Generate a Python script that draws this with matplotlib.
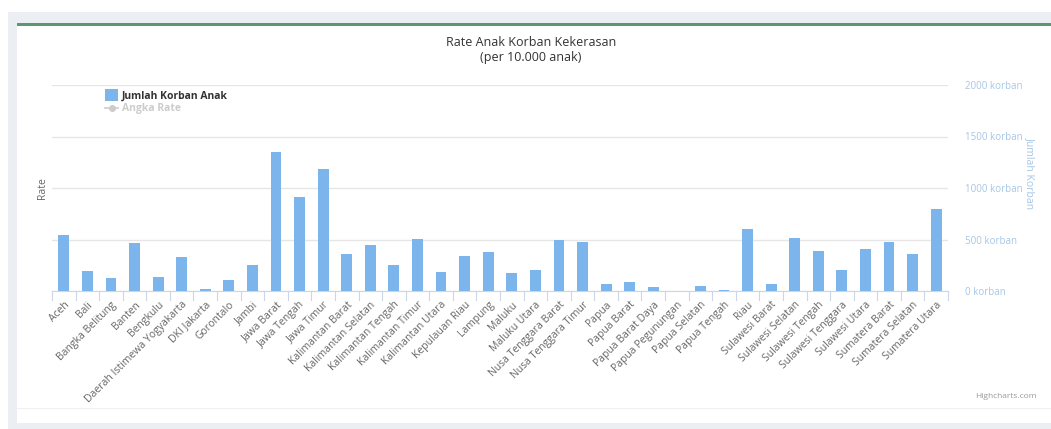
import numpy as np
import matplotlib.pyplot as plt
from matplotlib.patches import Rectangle
from matplotlib.lines import Line2D

plt.rcParams['font.family'] = ['Open Sans', 'DejaVu Sans']

# data
provinsi = [
    'Aceh', 'Bali', 'Bangka Belitung', 'Banten', 'Bengkulu',
    'Daerah Istimewa Yogyakarta', 'DKI Jakarta', 'Gorontalo', 'Jambi',
    'Jawa Barat', 'Jawa Tengah', 'Jawa Timur', 'Kalimantan Barat',
    'Kalimantan Selatan', 'Kalimantan Tengah', 'Kalimantan Timur',
    'Kalimantan Utara', 'Kepulauan Riau', 'Lampung', 'Maluku', 'Maluku Utara',
    'Nusa Tenggara Barat', 'Nusa Tenggara Timur', 'Papua', 'Papua Barat',
    'Papua Barat Daya', 'Papua Pegunungan', 'Papua Selatan', 'Papua Tengah',
    'Riau', 'Sulawesi Barat', 'Sulawesi Selatan', 'Sulawesi Tengah',
    'Sulawesi Tenggara', 'Sulawesi Utara', 'Sumatera Barat',
    'Sumatera Selatan', 'Sumatera Utara',
]
jumlah_korban = [
    545, 194, 123, 463, 133, 330, 15, 107, 252,
    1352, 910, 1181, 356, 447, 252, 509, 185, 340, 383, 175, 201,
    492, 476, 65, 91, 39, 0, 49, 10,
    606, 65, 518, 388, 201, 405, 476, 356, 793,
]
yticks = [0, 500, 1000, 1500, 2000]

W, H = 1051, 429
fig = plt.figure(figsize=(W / 100, H / 100), dpi=100)

# page background + card (pixel coords from the top-left)
def px_rect(x0, y0, x1, y1, z, **kw):
    fig.patches.append(Rectangle((x0 / W, 1 - y1 / H), (x1 - x0) / W, (y1 - y0) / H,
                                 transform=fig.transFigure, zorder=z, **kw))

px_rect(8, 12, W, 429, -5, facecolor='#ebeff4', edgecolor='none')
px_rect(17, 24, W, 423, -4, facecolor='white', edgecolor='none')
px_rect(17, 23, W, 26, -3, facecolor='#5b9870', edgecolor='none')
fig.lines.append(Line2D([17 / W, 1], [1 - 408 / H] * 2, transform=fig.transFigure,
                        color='#f0f0f0', lw=0.8, zorder=-3))

ax = fig.add_axes([52 / W, 1 - 291 / H, (948 - 52) / W, (291 - 85) / H])
ax.set_facecolor('none')

x = np.arange(len(provinsi))
ax.bar(x, jumlah_korban, width=0.46, color='#7cb5ec', zorder=3)

ax.set_xlim(-0.5, len(provinsi) - 0.5)
ax.set_ylim(0, 2000)
ax.set_yticks(yticks)
ax.yaxis.tick_right()
ax.set_yticklabels([f'{v} korban' for v in yticks], color='#a6c6e6', fontsize=7)
ax.tick_params(axis='y', length=0, pad=12)
ax.yaxis.grid(True, color='#e6e6e6', lw=1, zorder=0)
ax.set_axisbelow(True)

ax.set_xticks(x)
ax.set_xticklabels(provinsi, rotation=45, ha='right', va='top',
                   rotation_mode='anchor', fontsize=7.5, color='#666666')
ax.tick_params(axis='x', length=0, pad=6)
# tick marks between categories
for b in np.arange(-0.5, len(provinsi), 1.0):
    ax.plot([b, b], [0, -0.045], transform=ax.get_xaxis_transform(),
            color='#ccd6eb', lw=0.8, clip_on=False)

for s in ['top', 'right', 'left']:
    ax.spines[s].set_visible(False)
ax.spines['bottom'].set_color('#ccd6eb')

fig.text(42 / W, 1 - 188 / H, 'Rate', rotation=90, ha='center', va='center',
         fontsize=7.5, color='#666666')
fig.text(1030 / W, 1 - 173 / H, 'Jumlah Korban', rotation=270, ha='center',
         va='center', fontsize=7.5, color='#a6c6e6')

fig.text(531 / W, 1 - 42 / H, 'Rate Anak Korban Kekerasan', ha='center',
         va='center', fontsize=9, color='#333333')
fig.text(531 / W, 1 - 57 / H, '(per 10.000 anak)', ha='center',
         va='center', fontsize=9, color='#333333')

# legend
px_rect(105, 89, 118, 101, 3, facecolor='#7cb5ec', edgecolor='none')
fig.text(122 / W, 1 - 96 / H, 'Jumlah Korban Anak', ha='left', va='center',
         fontsize=7.5, fontweight='bold', color='#333333')
fig.lines.append(Line2D([105 / W, 118 / W], [1 - 108 / H] * 2,
                        transform=fig.transFigure, color='#cccccc', lw=1.2))
fig.lines.append(Line2D([111.5 / W], [1 - 108 / H], transform=fig.transFigure,
                        color='#cccccc', marker='o', markersize=4, lw=0))
fig.text(122 / W, 1 - 108 / H, 'Angka Rate', ha='left', va='center',
         fontsize=7.5, fontweight='bold', color='#cccccc')

fig.text(1037 / W, 1 - 397 / H, 'Highcharts.com', ha='right', va='center',
         fontsize=6, color='#999999')

fig.savefig('out.png', dpi=100)
